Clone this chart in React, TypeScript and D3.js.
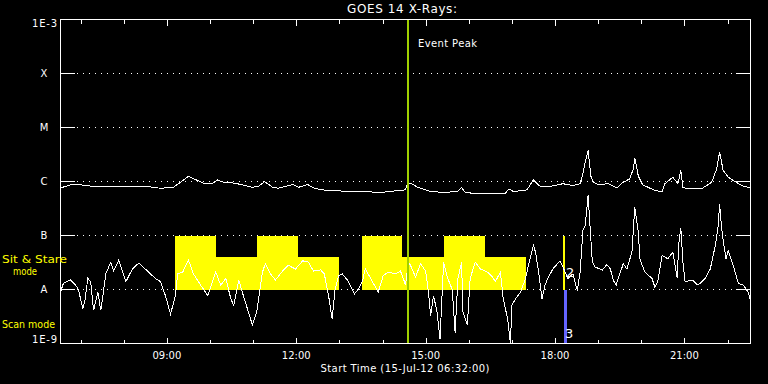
import React from "react";
import * as d3 from "d3";

const W = 768;
const H = 384;
const START = Date.UTC(2012, 6, 15, 6, 32, 0);
const SPAN_MIN = 960;

// y axis
const yLevels = [1e-3, 1e-4, 1e-5, 1e-6, 1e-7, 1e-8, 1e-9];
const yLabels = ["1E-3", "X", "M", "C", "B", "A", "1E-9"];
const gridLevels = [1e-4, 1e-5, 1e-6, 1e-7, 1e-8];

// GOES 1-8 A channel (minutes after start, W/m^2)
const longMin = [0, 14, 28, 46, 70, 93, 116, 139, 157, 167, 178, 191, 199, 212, 218, 227, 243, 267, 276, 284, 295, 303, 323, 331, 344, 352, 364, 382, 406, 428, 442, 456, 470, 480, 482, 487, 497, 515, 533, 552, 558, 563, 580, 602, 619, 624, 630, 649, 658, 667, 681, 699, 713, 723, 727, 730, 734, 738, 741, 748, 762, 774, 781, 792, 797, 799, 804, 810, 827, 837, 841, 852, 859, 863, 866, 873, 893, 906, 913, 917, 922, 929, 936, 948, 959];
const longFlux = [7.6e-7, 8.7e-7, 8.7e-7, 8.1e-7, 8.2e-7, 8.2e-7, 8.2e-7, 7.5e-7, 7.8e-7, 9.7e-7, 1.25e-6, 1.04e-6, 9.3e-7, 9.3e-7, 1.07e-6, 9.7e-7, 9.3e-7, 7.8e-7, 8.2e-7, 1.0e-6, 7.8e-7, 7.5e-7, 8.8e-7, 7.8e-7, 8.8e-7, 7.6e-7, 7.0e-7, 6.7e-7, 6.6e-7, 6.5e-7, 6.2e-7, 6.5e-7, 6.8e-7, 7.0e-7, 8.4e-7, 9.3e-7, 7.8e-7, 6.5e-7, 6.3e-7, 6.5e-7, 7.8e-7, 6.3e-7, 5.9e-7, 6.1e-7, 6.1e-7, 7.3e-7, 6.5e-7, 7.0e-7, 1.07e-6, 8.2e-7, 8.1e-7, 9.1e-7, 8.4e-7, 9.1e-7, 1.45e-6, 2.28e-6, 3.75e-6, 1.25e-6, 9.7e-7, 8.7e-7, 9.1e-7, 7.6e-7, 9.3e-7, 1.12e-6, 1.72e-6, 2.7e-6, 1.25e-6, 8.7e-7, 6.8e-7, 6.5e-7, 9.1e-7, 1.2e-6, 9.1e-7, 1.6e-6, 7.8e-7, 7.3e-7, 7.5e-7, 9.7e-7, 1.72e-6, 3.49e-6, 1.6e-6, 1.2e-6, 1.04e-6, 8.4e-7, 7.6e-7];

// GOES 0.5-4 A channel
const shortMin = [0, 4, 14, 21, 25, 31, 34, 38, 42, 46, 52, 56, 60, 63, 70, 74, 81, 91, 100, 109, 121, 132, 139, 146, 153, 160, 163, 170, 178, 185, 195, 205, 216, 223, 230, 237, 241, 248, 253, 260, 267, 273, 277, 281, 285, 292, 299, 309, 317, 327, 337, 345, 352, 362, 367, 373, 376, 378, 382, 387, 392, 399, 403, 409, 414, 420, 424, 428, 434, 442, 449, 456, 466, 473, 477, 480, 484, 487, 494, 501, 508, 512, 515, 519, 524, 528, 533, 538, 545, 549, 553, 558, 560, 566, 570, 577, 584, 594, 601, 605, 612, 616, 622, 626, 628, 633, 640, 647, 651, 658, 661, 665, 670, 674, 678, 685, 695, 699, 706, 713, 719, 723, 727, 730, 734, 737, 740, 744, 754, 760, 765, 769, 773, 776, 783, 788, 795, 799, 804, 806, 813, 823, 827, 831, 837, 845, 852, 858, 860, 863, 866, 869, 879, 887, 897, 904, 911, 915, 917, 920, 923, 926, 929, 936, 943, 950, 957, 959];
const shortFlux = [8.9e-9, 1.3e-8, 1.5e-8, 1.2e-8, 1.0e-8, 4.4e-9, 6.3e-9, 1.6e-8, 1.4e-8, 4.1e-9, 8.9e-9, 4.1e-9, 9.6e-9, 1.95e-8, 3.2e-8, 2.2e-8, 3.5e-8, 1.4e-8, 2.4e-8, 3.1e-8, 2.2e-8, 1.6e-8, 1.4e-8, 7.7e-9, 3.5e-9, 7.7e-9, 1.95e-8, 2.1e-8, 3.5e-8, 1.95e-8, 1.2e-8, 7.7e-9, 2.1e-8, 1.2e-8, 1.6e-8, 6.7e-9, 5.1e-9, 1.5e-8, 8.9e-9, 4.4e-9, 2.2e-9, 3.8e-9, 8.9e-9, 2.1e-8, 3.0e-8, 1.95e-8, 1.5e-8, 2.2e-8, 2.8e-8, 2.4e-8, 3.4e-8, 3.2e-8, 2.2e-8, 2.3e-8, 1.95e-8, 7.7e-9, 4.1e-9, 2.9e-9, 1.0e-8, 1.8e-8, 1.95e-8, 1.5e-8, 1.2e-8, 8.3e-9, 1.0e-8, 1.4e-8, 2.4e-8, 1.95e-8, 1.4e-8, 8.9e-9, 1.8e-8, 2.1e-8, 1.95e-8, 2.2e-8, 1.6e-8, 1.2e-8, 3.2e-8, 2.8e-8, 1.7e-8, 3.0e-8, 2.2e-8, 8.9e-9, 3.3e-9, 7.7e-9, 3.8e-9, 1.2e-9, 3.2e-8, 1.7e-8, 1.0e-8, 1.6e-9, 1.6e-8, 3.2e-8, 3.8e-9, 2.2e-9, 1.6e-8, 3.2e-8, 2.4e-8, 2.1e-8, 1.7e-8, 1.4e-8, 2.1e-8, 6.7e-9, 2.9e-9, 1.0e-9, 5.1e-9, 6.7e-9, 8.9e-9, 1.6e-8, 2.8e-8, 6.5e-8, 4.9e-8, 2.2e-8, 6.7e-9, 1.2e-8, 1.6e-8, 2.4e-8, 3.4e-8, 2.6e-8, 1.6e-8, 1.95e-8, 9.6e-9, 2.1e-8, 1.3e-7, 1.5e-7, 5.5e-7, 1.3e-7, 3.2e-8, 2.6e-8, 2.3e-8, 2.9e-8, 2.4e-8, 1.5e-8, 1.2e-8, 1.6e-8, 3.0e-8, 2.4e-8, 4.9e-8, 3.3e-7, 1.15e-7, 3.7e-8, 2.1e-8, 1.6e-8, 1.1e-8, 1.4e-8, 4.3e-8, 3.7e-8, 4.9e-8, 1.6e-8, 6.5e-8, 1.4e-7, 3.2e-8, 1.4e-8, 1.5e-8, 1.2e-8, 1.6e-8, 2.4e-8, 6.5e-8, 1.5e-7, 3.9e-7, 1.3e-7, 6.5e-8, 3.7e-8, 5.3e-8, 2.8e-8, 1.3e-8, 1.2e-8, 8.9e-9, 6.7e-9];

// Sit & Stare mode intervals (minutes after start) and their bar heights
const ssStart = [159, 217, 273, 331, 419, 475, 533, 591];
const ssEnd = [217, 273, 331, 388, 475, 533, 591, 648];
const ssTop = [1e-7, 4e-8, 1e-7, 4e-8, 1e-7, 4e-8, 1e-7, 4e-8];

const eventPeakMin = 483;
const modeMarkMin = [700, 702.5];
const modeMarkLabel = ["2", "3"];

const FONT = "DejaVu Sans, sans-serif";

export default function App() {
  const tm = (m: number) => new Date(START + m * 60000);
  const x = d3.scaleUtc().domain([tm(0), tm(SPAN_MIN)]).range([60.5, 750.5]);
  const y = d3.scaleLog().domain([1e-9, 1e-3]).range([343.5, 19.5]);
  const X0 = 60.5, X1 = 750.5, Y0 = 19.5, Y1 = 343.5;

  const line = d3
    .line<[number, number]>()
    .x((d) => x(tm(d[0])))
    .y((d) => y(Math.max(d[1], 1e-9)));

  const longData = longMin.map((m, i) => [m, longFlux[i]] as [number, number]);
  const shortData = shortMin.map((m, i) => [m, shortFlux[i]] as [number, number]);

  const hourTicks = x.ticks(d3.utcHour.every(1) as any);
  const fmt = d3.utcFormat("%H:%M");

  return (
    <svg width={W} height={H} style={{ position: "absolute", left: 0, top: 0, background: "#000" }}>
      <rect x={0} y={0} width={W} height={H} fill="#000" />

      {/* grid dotted lines */}
      {gridLevels.map((v) => (
        <line key={"g" + v} x1={77} x2={736} y1={y(v)} y2={y(v)} stroke="#fff" strokeWidth={1} strokeDasharray="1 5" shapeRendering="crispEdges" />
      ))}
      {/* left / right decade ticks */}
      {gridLevels.map((v) => (
        <g key={"t" + v}>
          <line x1={X0} x2={75} y1={y(v)} y2={y(v)} stroke="#fff" shapeRendering="crispEdges" />
          <line x1={736} x2={X1} y1={y(v)} y2={y(v)} stroke="#fff" shapeRendering="crispEdges" />
        </g>
      ))}

      {/* Sit & Stare blocks */}
      {ssStart.map((s, i) => (
        <rect
          key={"ss" + i}
          x={x(tm(s))}
          width={x(tm(ssEnd[i])) - x(tm(s))}
          y={y(ssTop[i])}
          height={y(1e-8) - y(ssTop[i])}
          fill="#ffff00"
          shapeRendering="crispEdges"
        />
      ))}

      {/* mode markers */}
      <line x1={x(tm(modeMarkMin[0]))} x2={x(tm(modeMarkMin[0]))} y1={y(1e-7)} y2={y(1e-8)} stroke="#ffff00" strokeWidth={2} shapeRendering="crispEdges" />
      <line x1={x(tm(modeMarkMin[1]))} x2={x(tm(modeMarkMin[1]))} y1={y(1e-8)} y2={Y1} stroke="#6464ff" strokeWidth={3} shapeRendering="crispEdges" />

      {/* curves */}
      <path d={line(longData) || ""} fill="none" stroke="#fff" strokeWidth={1} shapeRendering="crispEdges" />
      <path d={line(shortData) || ""} fill="none" stroke="#fff" strokeWidth={1} shapeRendering="crispEdges" />

      {/* event peak */}
      <line x1={x(tm(eventPeakMin))} x2={x(tm(eventPeakMin))} y1={Y0} y2={Y1} stroke="#a0d000" strokeWidth={2} shapeRendering="crispEdges" />
      <text x={418} y={47} fill="#fff" fontFamily={FONT} fontSize={10} textLength={59}>Event Peak</text>

      {/* frame */}
      <rect x={X0} y={Y0} width={X1 - X0} height={Y1 - Y0} fill="none" stroke="#fff" strokeWidth={1} shapeRendering="crispEdges" />

      {/* time ticks */}
      {hourTicks.map((t) => {
        const major = t.getUTCHours() % 3 === 0;
        const len = major ? 6 : 4;
        const xp = Math.round(x(t)) + 0.5;
        return (
          <g key={"h" + t.getTime()}>
            <line x1={xp} x2={xp} y1={Y1} y2={Y1 - len} stroke="#fff" shapeRendering="crispEdges" />
            <line x1={xp} x2={xp} y1={Y0} y2={Y0 + len} stroke="#fff" shapeRendering="crispEdges" />
            {major && (
              <text x={x(t)} y={359} fill="#fff" fontFamily={FONT} fontSize={10} textAnchor="middle">
                {fmt(t)}
              </text>
            )}
          </g>
        );
      })}

      {/* y labels */}
      {yLevels.map((v, i) => {
        if (i === 0)
          return (
            <text key="yl0" x={57} y={27} fill="#fff" fontFamily={FONT} fontSize={10} textAnchor="end" textLength={25}>
              {yLabels[i]}
            </text>
          );
        if (i === yLevels.length - 1)
          return (
            <text key="yl6" x={57} y={343} fill="#fff" fontFamily={FONT} fontSize={10} textAnchor="end" textLength={25}>
              {yLabels[i]}
            </text>
          );
        return (
          <text key={"yl" + i} x={44} y={y(v) + 3.7} fill="#fff" fontFamily={FONT} fontSize={10} textAnchor="middle">
            {yLabels[i]}
          </text>
        );
      })}

      {/* mode labels */}
      <text x={2} y={263} fill="#ffff00" fontFamily={FONT} fontSize={10} textLength={65} lengthAdjust="spacingAndGlyphs">Sit &amp; Stare</text>
      <text x={13} y={275} fill="#ffff00" fontFamily={FONT} fontSize={10} textLength={24} lengthAdjust="spacingAndGlyphs">mode</text>
      <text x={2} y={328} fill="#ffff00" fontFamily={FONT} fontSize={10} textLength={53} lengthAdjust="spacingAndGlyphs">Scan mode</text>

      <text x={566} y={277} fill="#fff" fontFamily={FONT} fontSize={13}>{modeMarkLabel[0]}</text>
      <text x={565} y={338} fill="#fff" fontFamily={FONT} fontSize={13}>{modeMarkLabel[1]}</text>

      {/* titles */}
      <text x={402} y={13} fill="#fff" fontFamily={FONT} fontSize={12} textAnchor="middle" textLength={110}>GOES 14 X-Rays:</text>
      <text x={405} y={372} fill="#fff" fontFamily={FONT} fontSize={10} textAnchor="middle" textLength={169}>Start Time (15-Jul-12 06:32:00)</text>
    </svg>
  );
}
